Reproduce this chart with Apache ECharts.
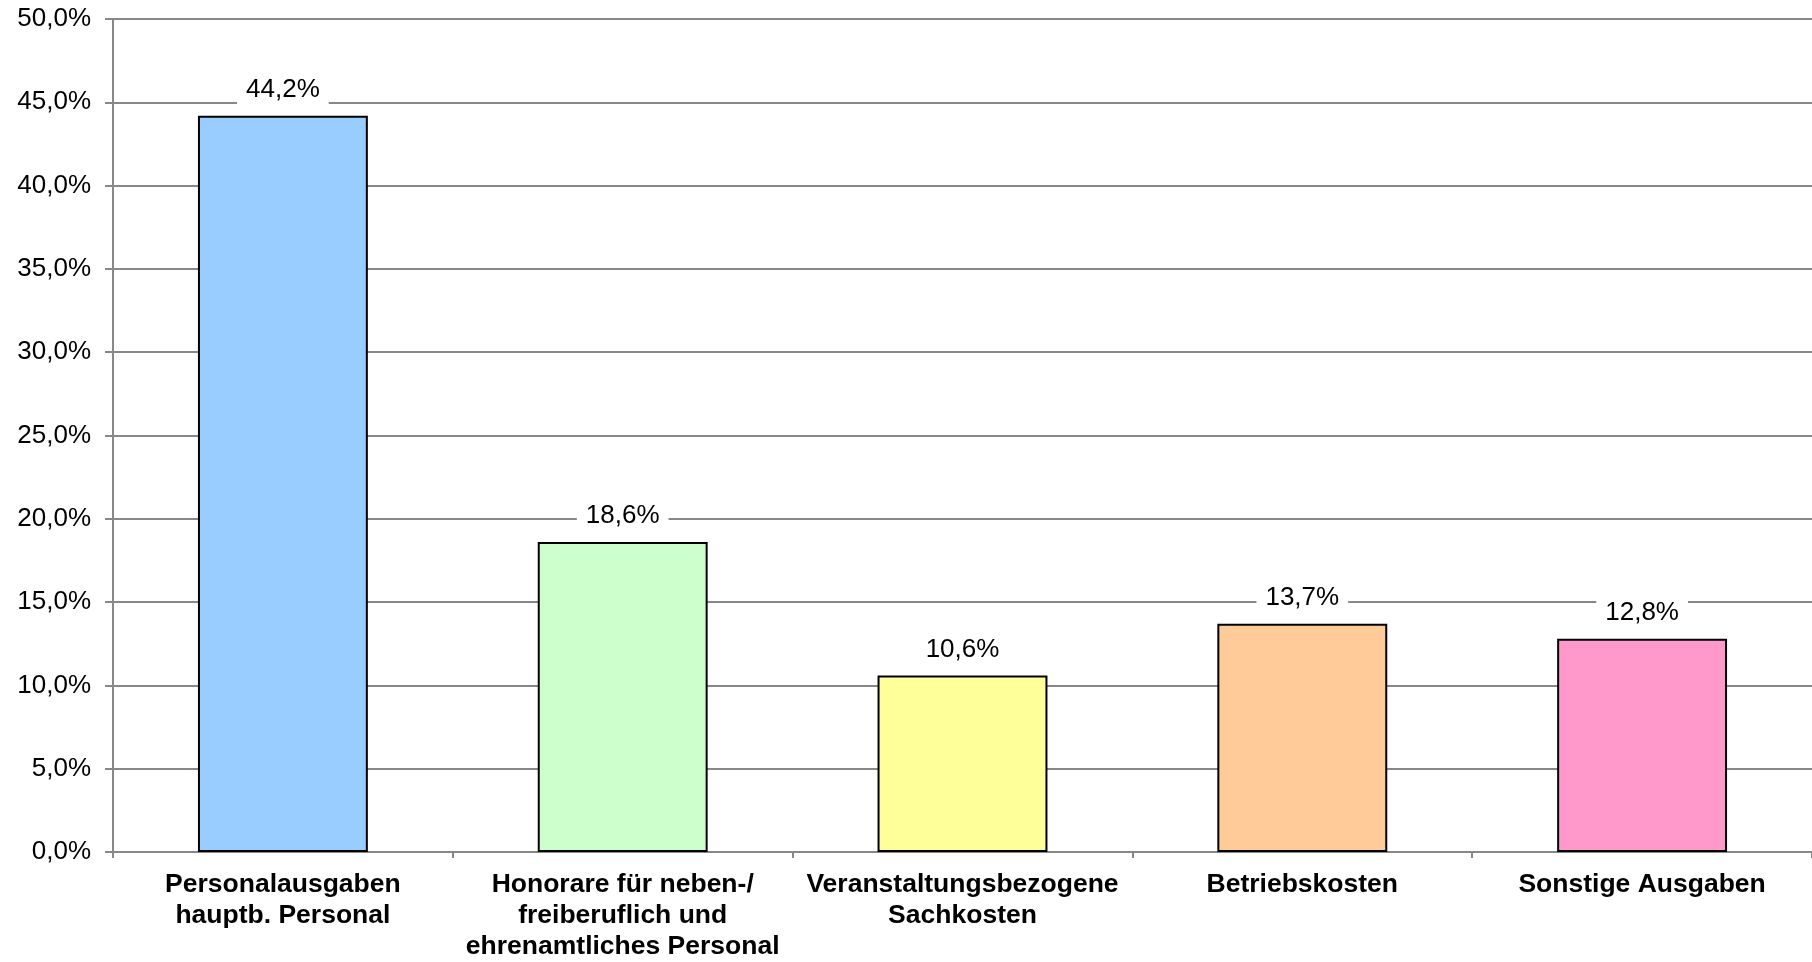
<!DOCTYPE html>
<html>
<head>
<meta charset="utf-8">
<script src="https://cdn.jsdelivr.net/npm/echarts@6/dist/echarts.min.js"></script>
<style>
html,body{margin:0;padding:0;background:#fff;overflow:hidden;}
#chart{width:1812px;height:962px;}
</style>
</head>
<body>
<div id="chart"></div>
<script>
const categories = [
  "Personalausgaben\nhauptb. Personal",
  "Honorare für neben-/\nfreiberuflich und\nehrenamtliches Personal",
  "Veranstaltungsbezogene\nSachkosten",
  "Betriebskosten",
  "Sonstige Ausgaben"
];
const values = [44.2, 18.6, 10.6, 13.7, 12.8];
const barColors = ["#99CCFF", "#CCFFCC", "#FFFF99", "#FFCC99", "#FF99CC"];
const yMin = 0, yMax = 50, yStep = 5;

const fmt = v => v.toFixed(1).replace('.', ',') + '%';

const chart = echarts.init(document.getElementById('chart'), null, {renderer: 'canvas'});
chart.setOption({
  animation: false,
  backgroundColor: '#fff',
  grid: {left: 113, right: 0, top: 19, bottom: 106, containLabel: false},
  xAxis: {
    type: 'category',
    data: categories,
    axisLine: {show: true, lineStyle: {color: '#888', width: 2}},
    axisTick: {show: true, length: 6, lineStyle: {color: '#888', width: 2}},
    axisLabel: {
      color: '#000', fontFamily: 'Liberation Sans, Arial', fontWeight: 'bold',
      fontSize: 26.5, lineHeight: 31, margin: 17, interval: 0
    },
    splitLine: {show: false}
  },
  yAxis: {
    type: 'value', min: yMin, max: yMax, interval: yStep,
    axisLine: {show: true, lineStyle: {color: '#888', width: 2}},
    axisTick: {show: true, length: 8, lineStyle: {color: '#888', width: 2}},
    axisLabel: {
      color: '#000', fontFamily: 'Liberation Sans, Arial', fontSize: 26,
      margin: 22, formatter: v => fmt(v)
    },
    splitLine: {show: true, lineStyle: {color: '#888', width: 2}}
  },
  series: [{
    type: 'bar',
    data: values.map((v, i) => ({value: v, itemStyle: {color: barColors[i]}})),
    barWidth: '50%',
    itemStyle: {borderColor: '#000', borderWidth: 2},
    label: {
      show: true, position: 'top', distance: 10,
      formatter: p => fmt(p.value),
      color: '#000', fontFamily: 'Liberation Sans, Arial', fontSize: 26,
      lineHeight: 26, backgroundColor: '#fff', padding: [3, 9]
    }
  }]
});
</script>
</body>
</html>
